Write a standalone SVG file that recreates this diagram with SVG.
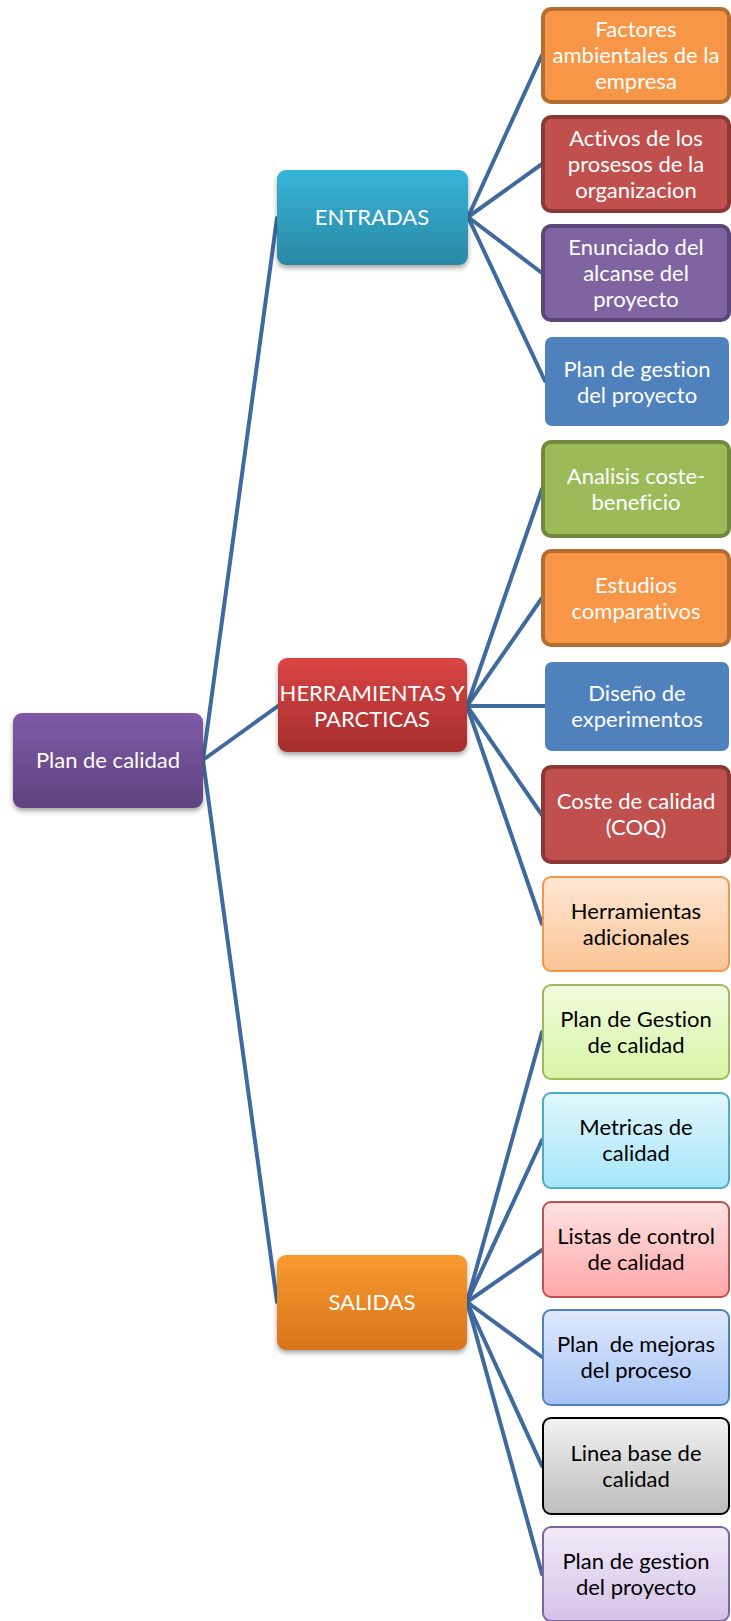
<svg xmlns="http://www.w3.org/2000/svg" width="731" height="1621" viewBox="0 0 731 1621">
<defs>
<style>
.t{font-family:Lato,"Noto Sans","Liberation Sans",sans-serif;font-size:22px;text-anchor:middle;font-variant-ligatures:none}
.w{fill:#ffffff}
.k{fill:#000000}
.conn{stroke:#3F6A9E;stroke-width:4;fill:none;stroke-linecap:round}
</style>
<linearGradient id="gPur" x1="0" y1="0" x2="0" y2="1"><stop offset="0" stop-color="#7F5AA6"/><stop offset="1" stop-color="#5F437F"/></linearGradient>
<linearGradient id="gCy" x1="0" y1="0" x2="0" y2="1"><stop offset="0" stop-color="#36B4D8"/><stop offset="1" stop-color="#2A88A4"/></linearGradient>
<linearGradient id="gRed" x1="0" y1="0" x2="0" y2="1"><stop offset="0" stop-color="#DA4545"/><stop offset="1" stop-color="#A52D2D"/></linearGradient>
<linearGradient id="gOr" x1="0" y1="0" x2="0" y2="1"><stop offset="0" stop-color="#F99A30"/><stop offset="1" stop-color="#D7741C"/></linearGradient>
<linearGradient id="lOr" x1="0" y1="0" x2="0" y2="1"><stop offset="0" stop-color="#FEE6D3"/><stop offset="1" stop-color="#FBC596"/></linearGradient>
<linearGradient id="lGr" x1="0" y1="0" x2="0" y2="1"><stop offset="0" stop-color="#F2FBDE"/><stop offset="1" stop-color="#D6F5A6"/></linearGradient>
<linearGradient id="lCy" x1="0" y1="0" x2="0" y2="1"><stop offset="0" stop-color="#E2F7FD"/><stop offset="1" stop-color="#A4E6F8"/></linearGradient>
<linearGradient id="lRd" x1="0" y1="0" x2="0" y2="1"><stop offset="0" stop-color="#FFE2E2"/><stop offset="1" stop-color="#FFA7A7"/></linearGradient>
<linearGradient id="lBl" x1="0" y1="0" x2="0" y2="1"><stop offset="0" stop-color="#DFE9FD"/><stop offset="1" stop-color="#A6C3F6"/></linearGradient>
<linearGradient id="lGy" x1="0" y1="0" x2="0" y2="1"><stop offset="0" stop-color="#F2F2F2"/><stop offset="1" stop-color="#BDBDBD"/></linearGradient>
<linearGradient id="lPu" x1="0" y1="0" x2="0" y2="1"><stop offset="0" stop-color="#F2EAF9"/><stop offset="1" stop-color="#D5C3E8"/></linearGradient>
<filter id="sh" x="-10%" y="-10%" width="125%" height="130%"><feDropShadow dx="0" dy="3" stdDeviation="2.5" flood-color="#000" flood-opacity="0.35"/></filter>
</defs>

<g id="connectors">
<line class="conn" x1="203" y1="760" x2="277" y2="218"/>
<line class="conn" x1="203" y1="760" x2="278" y2="706"/>
<line class="conn" x1="203" y1="760" x2="277" y2="1302"/>
<line class="conn" x1="468" y1="217" x2="542" y2="55"/>
<line class="conn" x1="468" y1="217" x2="542" y2="164"/>
<line class="conn" x1="468" y1="217" x2="542" y2="273"/>
<line class="conn" x1="468" y1="217" x2="545" y2="381"/>
<line class="conn" x1="467" y1="706" x2="542" y2="489"/>
<line class="conn" x1="467" y1="706" x2="542" y2="598"/>
<line class="conn" x1="467" y1="706" x2="545" y2="706"/>
<line class="conn" x1="467" y1="706" x2="542" y2="815"/>
<line class="conn" x1="467" y1="706" x2="542" y2="924"/>
<line class="conn" x1="467" y1="1302" x2="542" y2="1032"/>
<line class="conn" x1="467" y1="1302" x2="542" y2="1140"/>
<line class="conn" x1="467" y1="1302" x2="542" y2="1250"/>
<line class="conn" x1="467" y1="1302" x2="542" y2="1357"/>
<line class="conn" x1="467" y1="1302" x2="542" y2="1466"/>
<line class="conn" x1="467" y1="1302" x2="542" y2="1574"/>
</g>

<g id="plan-calidad">
<rect x="13" y="713" width="190" height="95" rx="9" fill="url(#gPur)" filter="url(#sh)"/>
<text class="t w" x="108" y="768">Plan de calidad</text>
</g>
<g id="entradas">
<rect x="277" y="170" width="191" height="95" rx="9" fill="url(#gCy)" filter="url(#sh)"/>
<text class="t w" x="372" y="225">ENTRADAS</text>
</g>
<g id="herramientas">
<rect x="278" y="658" width="189" height="94" rx="9" fill="url(#gRed)" filter="url(#sh)"/>
<text class="t w" x="372" y="701">HERRAMIENTAS Y</text>
<text class="t w" x="372" y="727">PARCTICAS</text>
</g>
<g id="salidas">
<rect x="277" y="1255" width="190" height="95" rx="9" fill="url(#gOr)" filter="url(#sh)"/>
<text class="t w" x="372" y="1310">SALIDAS</text>
</g>

<g id="factores">
<rect x="543" y="9" width="186" height="93" rx="8" fill="#F79646" stroke="#B66D31" stroke-width="4"/>
<text class="t w" x="636" y="37">Factores</text>
<text class="t w" x="636" y="63">ambientales de la</text>
<text class="t w" x="636" y="89">empresa</text>
</g>
<g id="activos">
<rect x="543" y="117" width="186" height="94" rx="8" fill="#C0504D" stroke="#8C3836" stroke-width="4"/>
<text class="t w" x="636" y="146">Activos de los</text>
<text class="t w" x="636" y="172">prosesos de la</text>
<text class="t w" x="636" y="198">organizacion</text>
</g>
<g id="enunciado">
<rect x="543" y="226" width="186" height="94" rx="8" fill="#8064A2" stroke="#5C4776" stroke-width="4"/>
<text class="t w" x="636" y="255">Enunciado del</text>
<text class="t w" x="636" y="281">alcanse del</text>
<text class="t w" x="636" y="307">proyecto</text>
</g>
<g id="plan-gestion-1">
<rect x="545" y="337" width="184" height="89" rx="7" fill="#4F81BD"/>
<text class="t w" x="637" y="377">Plan de gestion</text>
<text class="t w" x="637" y="403">del proyecto</text>
</g>

<g id="analisis">
<rect x="543" y="442" width="186" height="94" rx="8" fill="#9BBB59" stroke="#71893F" stroke-width="4"/>
<text class="t w" x="636" y="484">Analisis coste-</text>
<text class="t w" x="636" y="510">beneficio</text>
</g>
<g id="estudios">
<rect x="543" y="551" width="186" height="94" rx="8" fill="#F79646" stroke="#B66D31" stroke-width="4"/>
<text class="t w" x="636" y="593">Estudios</text>
<text class="t w" x="636" y="619">comparativos</text>
</g>
<g id="diseno">
<rect x="545" y="662" width="184" height="89" rx="7" fill="#4F81BD"/>
<text class="t w" x="637" y="701">Diseño de</text>
<text class="t w" x="637" y="727">experimentos</text>
</g>
<g id="coste">
<rect x="543" y="767" width="186" height="95" rx="8" fill="#C0504D" stroke="#8C3836" stroke-width="4"/>
<text class="t w" x="636" y="809">Coste de calidad</text>
<text class="t w" x="636" y="835">(COQ)</text>
</g>
<g id="herramientas-adicionales">
<rect x="543" y="877" width="186" height="94" rx="8" fill="url(#lOr)" stroke="#F79646" stroke-width="2"/>
<text class="t k" x="636" y="919">Herramientas</text>
<text class="t k" x="636" y="945">adicionales</text>
</g>

<g id="plan-gestion-calidad">
<rect x="543" y="985" width="186" height="94" rx="8" fill="url(#lGr)" stroke="#9BBB59" stroke-width="2"/>
<text class="t k" x="636" y="1027">Plan de Gestion</text>
<text class="t k" x="636" y="1053">de calidad</text>
</g>
<g id="metricas">
<rect x="543" y="1093" width="186" height="95" rx="8" fill="url(#lCy)" stroke="#4BACC6" stroke-width="2"/>
<text class="t k" x="636" y="1135">Metricas de</text>
<text class="t k" x="636" y="1161">calidad</text>
</g>
<g id="listas">
<rect x="543" y="1202" width="186" height="95" rx="8" fill="url(#lRd)" stroke="#C0504D" stroke-width="2"/>
<text class="t k" x="636" y="1244">Listas de control</text>
<text class="t k" x="636" y="1270">de calidad</text>
</g>
<g id="mejoras">
<rect x="543" y="1310" width="186" height="95" rx="8" fill="url(#lBl)" stroke="#4F81BD" stroke-width="2"/>
<text class="t k" x="636" y="1352" xml:space="preserve">Plan  de mejoras</text>
<text class="t k" x="636" y="1378">del proceso</text>
</g>
<g id="linea-base">
<rect x="543" y="1418" width="186" height="96" rx="8" fill="url(#lGy)" stroke="#000000" stroke-width="2"/>
<text class="t k" x="636" y="1461">Linea base de</text>
<text class="t k" x="636" y="1487">calidad</text>
</g>
<g id="plan-gestion-2">
<rect x="543" y="1527" width="186" height="94" rx="8" fill="url(#lPu)" stroke="#8064A2" stroke-width="2"/>
<text class="t k" x="636" y="1569">Plan de gestion</text>
<text class="t k" x="636" y="1595">del proyecto</text>
</g>
</svg>
